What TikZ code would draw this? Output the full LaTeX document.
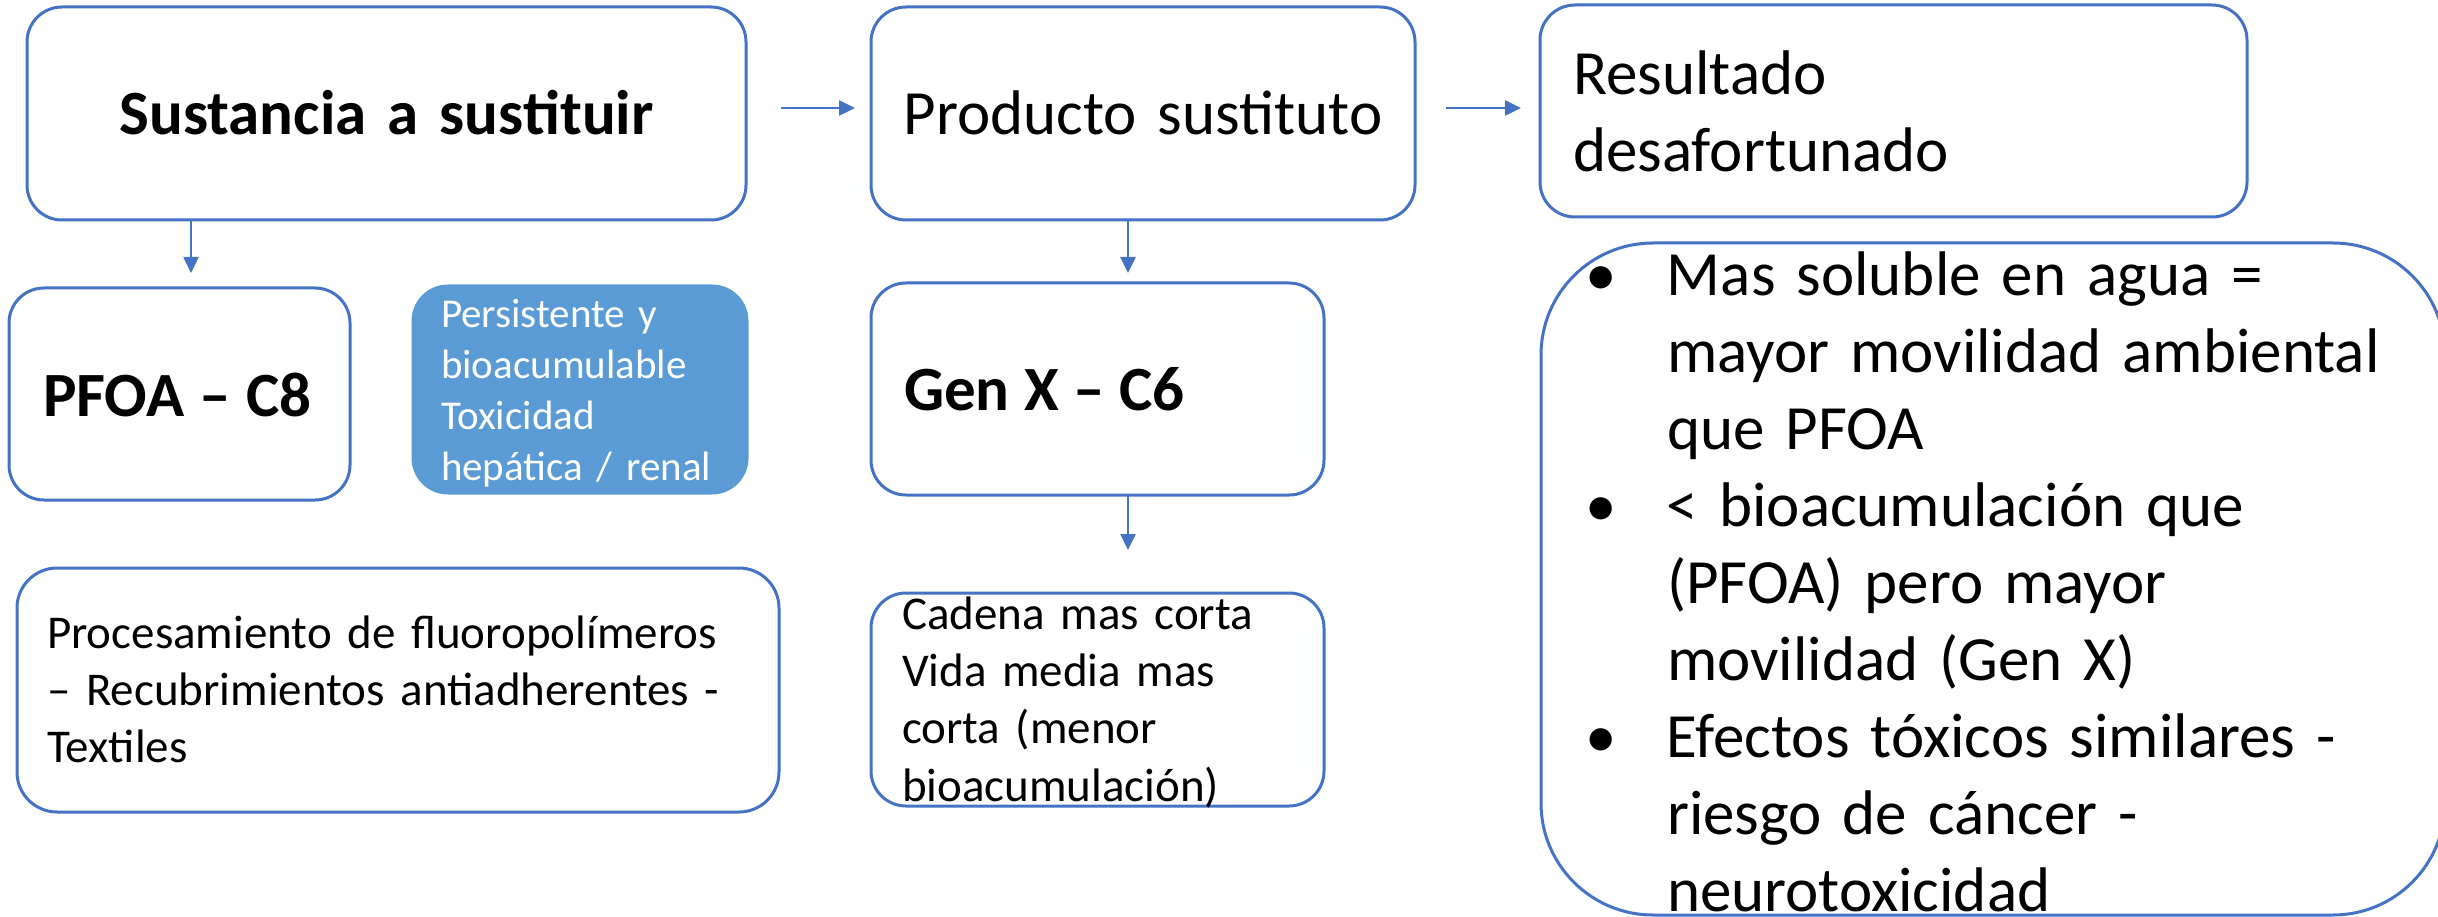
\documentclass[tikz,border=0pt]{standalone}
\usepackage{fontspec}
\setmainfont{Carlito}
\usetikzlibrary{arrows.meta}
\definecolor{bord}{HTML}{4472C4}
\definecolor{fillb}{HTML}{5B9BD5}
\begin{document}
\begin{tikzpicture}[x=1pt,y=-1pt,
  box/.style={draw=bord, line width=3pt, rounded corners=#1, inner ysep=0pt, outer sep=0pt},
  big/.style={font=\bfseries\fontsize{63}{77}\selectfont},
  reg/.style={font=\fontsize{63}{77}\selectfont},
  mid/.style={font=\fontsize{47}{57.4}\selectfont},
  sml/.style={font=\fontsize{41}{51}\selectfont},
  arr/.style={draw=bord, line width=2.5pt, -{Triangle[length=16pt,width=15pt]}}]
\useasboundingbox (0,0) rectangle (2438,917);

% top row
\node[box=35pt, big, minimum width=719pt, minimum height=213pt, inner xsep=20pt, text width=679pt, align=center, text height=43pt, text depth=0pt] (A) at (386.5,113.5) {\mbox{Sustancia a sustituir}};
\node[box=35pt, reg, minimum width=544pt, minimum height=213pt, inner xsep=20pt, text width=504pt, align=center, text height=43pt, text depth=0pt] (B) at (1143,113.5) {\mbox{Producto sustituto}};
\node[box=35pt, reg, minimum width=707pt, minimum height=212pt, inner xsep=33pt, text width=641pt, align=left, text height=45pt, text depth=77pt] (C) at (1893.5,111) {Resultado\\desafortunado};

% second row
\node[box=35pt, big, minimum width=341pt, minimum height=212pt, inner xsep=34pt, text width=273pt, align=left, text height=44pt, text depth=0pt] (PFOA) at (179.5,394) {\spaceskip=0.24em\mbox{PFOA – C8}};
\node[box=35pt, draw=fillb, fill=fillb, text=white, sml, minimum width=334pt, minimum height=207pt, inner xsep=28pt, text width=278pt, align=left, text height=28pt, text depth=153pt] (Blue) at (580,389.5) {Persistente y\\bioacumulable\\Toxicidad\\hepática / renal};
\node[box=35pt, big, minimum width=453pt, minimum height=212pt, inner xsep=33pt, text width=387pt, align=left, text height=42pt, text depth=0pt] (GenX) at (1097.5,389) {\spaceskip=0.23em\mbox{Gen X – C6}};

% third row
\node[box=40pt, mid, minimum width=762pt, minimum height=244pt, inner xsep=30pt, text width=702pt, align=left, text height=31pt, text depth=115pt] (Proc) at (398,690) {Procesamiento de fluoropolímeros\\– Recubrimientos antiadherentes -\\Textiles};
\node[box=35pt, mid, minimum width=453pt, minimum height=213pt, inner xsep=31pt, text width=391pt, align=left, text height=31pt, text depth=172pt] (Cad) at (1097.5,699.5) {Cadena mas corta\\Vida media mas\\corta (menor\\bioacumulación)};

% big right box
\node[box=112pt, reg, minimum width=904pt, minimum height=672pt, inner xsep=44pt, text width=816pt, align=left, text height=48pt, text depth=616pt] (Res) at (1993,579) {\parskip=0pt
\hangindent=82pt\hangafter=1\noindent\makebox[82pt][l]{\textbullet}\mbox{Mas soluble en agua =}\newline\mbox{mayor movilidad ambiental}\newline\mbox{que PFOA}\par
\hangindent=82pt\hangafter=1\noindent\makebox[82pt][l]{\textbullet}\mbox{< bioacumulación que}\newline\mbox{(PFOA) pero mayor}\newline\mbox{movilidad (Gen X)}\par
\hangindent=82pt\hangafter=1\noindent\makebox[82pt][l]{\textbullet}\mbox{Efectos tóxicos similares -}\newline\mbox{riesgo de cáncer -}\newline\mbox{neurotoxicidad}\par};

% connectors
\draw[arr] ([xshift=35pt,yshift=5.5pt]A.east) -- ([xshift=-16pt,yshift=5.5pt]B.west);
\draw[arr] ([xshift=31pt,yshift=5.5pt]B.east) -- ([xshift=-19pt,yshift=3pt]C.west);
\coordinate (a1) at ([xshift=164pt]A.south west);
\coordinate (p1) at ([yshift=15pt]PFOA.north);
\draw[arr] (a1) -- (a1 |- p1);
\coordinate (b1) at ([xshift=-15pt]B.south);
\coordinate (g1) at ([yshift=10pt]GenX.north);
\draw[arr] (b1) -- (b1 |- g1);
\coordinate (g2) at ([xshift=30.5pt]GenX.south);
\coordinate (c1) at ([yshift=43pt]Cad.north);
\draw[arr] (g2) -- (g2 |- c1);
\end{tikzpicture}
\end{document}
